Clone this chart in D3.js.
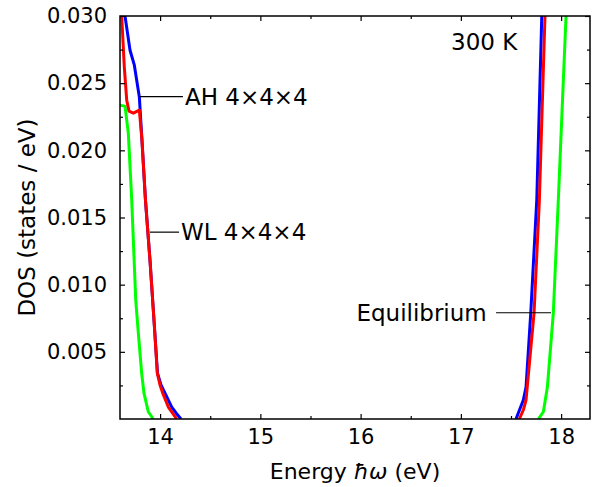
<!DOCTYPE html>
<html><head><meta charset="utf-8">
<script src="https://cdn.jsdelivr.net/npm/d3@7"></script>
<style>
body{margin:0;background:#fff;}
</style></head>
<body><svg id="c" width="598" height="487"></svg>
<script>
// ---- data ----
const blueLeftE   = [13.640,13.650,13.700,13.743,13.793,13.819,13.854,13.899,13.939,13.974,14.009,14.049,14.116,14.159,14.208];
const blueLeftD   = [0.0310,0.0300,0.02745,0.02634,0.02396,0.02076,0.01629,0.01183,0.00737,0.00342,0.00253,0.00193,0.00089,0.00045,0.0];
const redLeftE    = [13.612,13.617,13.643,13.667,13.690,13.733,13.793,13.819,13.854,13.899,13.939,13.972,13.999,14.026,14.082,14.166];
const redLeftD    = [0.0310,0.0300,0.02619,0.02373,0.02292,0.02277,0.02299,0.02076,0.01629,0.01183,0.00737,0.00342,0.00253,0.00193,0.00089,0.0];
const greenLeftE  = [13.590,13.650,13.683,13.717,13.757,13.783,13.816,13.839,13.882,13.932];
const greenLeftD  = [0.02336,0.02329,0.02128,0.01629,0.00885,0.00640,0.00342,0.00193,0.00054,0.0];
const blueRightE  = [17.550,17.623,17.650,17.697,17.757,17.807,17.812];
const blueRightD  = [0.0,0.00141,0.00238,0.00789,0.01629,0.0300,0.0310];
const redRightE   = [17.583,17.623,17.650,17.730,17.783,17.839,17.845];
const redRightD   = [0.0,0.00067,0.00141,0.00789,0.01629,0.0300,0.0310];
const greenRightE = [17.773,17.823,17.863,17.922,17.972,18.049,18.054];
const greenRightD = [0.0,0.00054,0.00238,0.00789,0.01629,0.0300,0.0310];
const xTicks = [14,15,16,17,18];
const xMinor = [14.5,15.5,16.5,17.5];
const yTicks = [0.005,0.010,0.015,0.020,0.025,0.030];
const yTickLabels = ["0.005","0.010","0.015","0.020","0.025","0.030"];
const yMinor = [0.0025,0.0075,0.0125,0.0175,0.0225,0.0275];
const labels = ["AH 4×4×4","WL 4×4×4","Equilibrium","300 K"];

const FONT = "'DejaVu Sans', sans-serif";

// ---- layout ----
const svg = d3.select("#c");
const L=120,R=590,T=16,B=419;
const x = d3.scaleLinear().domain([13.6,18.288]).range([L,R]);
const y = d3.scaleLinear().domain([0,0.030]).range([B,T]);

svg.append("clipPath").attr("id","clip").append("rect")
  .attr("x",L).attr("y",T).attr("width",R-L).attr("height",B-T);

const line = d3.line().x(d=>x(d[0])).y(d=>y(d[1]));
function series(E,D,color){
  svg.append("path").attr("clip-path","url(#clip)")
    .datum(E.map((e,i)=>[e,D[i]]))
    .attr("d",line).attr("fill","none").attr("stroke",color)
    .attr("stroke-width",3).attr("stroke-linejoin","round");
}
series(greenLeftE,greenLeftD,"#00ff00");
series(greenRightE,greenRightD,"#00ff00");
series(blueLeftE,blueLeftD,"#0000ff");
series(blueRightE,blueRightD,"#0000ff");
series(redLeftE,redLeftD,"#ff0000");
series(redRightE,redRightD,"#ff0000");

// axes
function styleAxis(g){
  g.attr("font-family",FONT).attr("font-size",21);
  g.select(".domain").remove();
  g.selectAll("line").attr("stroke","#000").attr("stroke-width",1.2);
  g.selectAll("text").style("font-family",FONT).style("font-size","21px").attr("fill","#000");
}
svg.append("g").attr("transform",`translate(0,${B})`)
  .call(d3.axisBottom(x).tickValues(xTicks).tickFormat(d3.format("d")).tickSizeInner(-5).tickSizeOuter(0).tickPadding(10)).call(styleAxis);
svg.append("g").attr("transform",`translate(0,${B})`)
  .call(d3.axisBottom(x).tickValues(xMinor).tickFormat("").tickSizeInner(-3).tickSizeOuter(0)).call(styleAxis);
svg.append("g").attr("transform",`translate(0,${T})`)
  .call(d3.axisTop(x).tickValues(xTicks).tickFormat("").tickSizeInner(-5).tickSizeOuter(0)).call(styleAxis);
svg.append("g").attr("transform",`translate(0,${T})`)
  .call(d3.axisTop(x).tickValues(xMinor).tickFormat("").tickSizeInner(-3).tickSizeOuter(0)).call(styleAxis);
svg.append("g").attr("transform",`translate(${L},0)`)
  .call(d3.axisLeft(y).tickValues(yTicks).tickFormat((d,i)=>yTickLabels[i]).tickSizeInner(-5).tickSizeOuter(0).tickPadding(13)).call(styleAxis);
svg.append("g").attr("transform",`translate(${L},0)`)
  .call(d3.axisLeft(y).tickValues(yMinor).tickFormat("").tickSizeInner(-3).tickSizeOuter(0)).call(styleAxis);
svg.append("g").attr("transform",`translate(${R},0)`)
  .call(d3.axisRight(y).tickValues(yTicks).tickFormat("").tickSizeInner(-5).tickSizeOuter(0)).call(styleAxis);
svg.append("g").attr("transform",`translate(${R},0)`)
  .call(d3.axisRight(y).tickValues(yMinor).tickFormat("").tickSizeInner(-3).tickSizeOuter(0)).call(styleAxis);

svg.append("rect").attr("x",L).attr("y",T).attr("width",R-L).attr("height",B-T)
  .attr("fill","none").attr("stroke","#000").attr("stroke-width",1.5);

function txt(sz){ return svg.append("text").style("font-family",FONT).style("font-size",(sz||23)+"px").attr("fill","#000"); }

// axis titles
txt(22).attr("x",(L+R)/2).attr("y",479).attr("text-anchor","middle")
  .html('Energy <tspan font-style="italic">ħω</tspan> (eV)');
txt(23).attr("transform",`translate(35,${(T+B)/2}) rotate(-90)`).attr("text-anchor","middle")
  .text("DOS (states / eV)");

// annotations
function leader(x1,x2,yv){
  svg.append("line").attr("x1",x(x1)).attr("x2",x(x2)).attr("y1",y(yv)).attr("y2",y(yv))
    .attr("stroke","#000").attr("stroke-width",1.2);
}
leader(13.795,14.228,0.0240);
txt().attr("x",x(14.248)).attr("y",y(0.0240)+8).text(labels[0]);
leader(13.899,14.189,0.01391);
txt().attr("x",x(14.208)).attr("y",y(0.01391)+8).text(labels[1]);
leader(17.351,17.899,0.00791);
txt().attr("x",x(17.258)).attr("y",y(0.00791)+8).attr("text-anchor","end").text(labels[2]);
txt().attr("x",x(16.902)).attr("y",y(0.02745)).text(labels[3]);
</script></body></html>
